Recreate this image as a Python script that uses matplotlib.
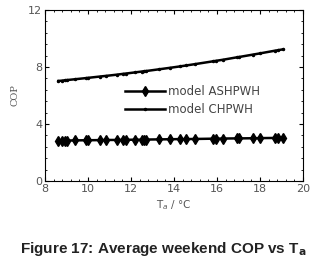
import numpy as np
import matplotlib
matplotlib.use("Agg")
import matplotlib.pyplot as plt
from matplotlib.ticker import MultipleLocator

# data
ta = [8.62, 8.77, 8.93, 9.0, 9.39, 9.9, 10.01, 10.55, 10.86, 11.33, 11.64, 11.76,
      12.18, 12.49, 12.6, 12.72, 13.31, 13.8, 14.27, 14.58, 14.97, 15.82, 15.94,
      16.28, 16.93, 17.02, 17.67, 17.98, 18.68, 18.84, 19.07]
cop_ashp = [2.82, 2.83, 2.84, 2.84, 2.85, 2.86, 2.86, 2.87, 2.88, 2.88, 2.89, 2.89,
            2.90, 2.90, 2.91, 2.91, 2.92, 2.93, 2.94, 2.94, 2.95, 2.97, 2.97,
            2.98, 2.99, 2.99, 3.00, 3.01, 3.02, 3.02, 3.03]
cop_chp = [7.02, 7.04, 7.07, 7.08, 7.14, 7.22, 7.24, 7.33, 7.38, 7.46, 7.52, 7.54,
           7.62, 7.68, 7.70, 7.72, 7.84, 7.94, 8.04, 8.11, 8.20, 8.40, 8.43,
           8.51, 8.68, 8.70, 8.87, 8.95, 9.14, 9.18, 9.24]

fig = plt.figure(figsize=(3.27, 2.65), dpi=100)
ax = fig.add_axes([45/327, 1 - 181/265, 258/327, 171/265])

ax.plot(ta, cop_ashp, color="black", lw=1.8, marker="d", ms=5, label="model ASHPWH")
ax.plot(ta, cop_chp, color="black", lw=1.8, marker=".", ms=3, label="model CHPWH")

ax.set_xlim(8, 20)
ax.set_ylim(0, 12)
ax.xaxis.set_major_locator(MultipleLocator(2))
ax.xaxis.set_minor_locator(MultipleLocator(0.4))
ax.yaxis.set_major_locator(MultipleLocator(4))
ax.yaxis.set_minor_locator(MultipleLocator(0.8))
ax.tick_params(which="both", direction="in", top=True, right=True, labelsize=8,
               labelcolor="#555555", pad=2)
ax.tick_params(which="major", length=3)
ax.tick_params(which="minor", length=1.5)
for s in ax.spines.values():
    s.set_linewidth(0.8)

ax.set_ylabel("COP", family="DejaVu Serif", fontsize=7, color="#555555", labelpad=6)
ax.set_xlabel("T$_a$ / °C", fontsize=7.5, color="#555555", labelpad=3)

leg = ax.legend(loc="center left", bbox_to_anchor=(0.31, 0.47), frameon=False,
                borderpad=0, borderaxespad=0,
                fontsize=8.5, handlelength=3.4, labelspacing=0.45, handletextpad=0.25,
                labelcolor="#444444")

fig.text(0.5, 0.045, "Figure 17: Average weekend COP vs T$_\\mathbf{a}$", ha="center",
         fontsize=11, fontweight="bold", family="Liberation Sans", color="#222222")

fig.savefig("out.png", dpi=100)
